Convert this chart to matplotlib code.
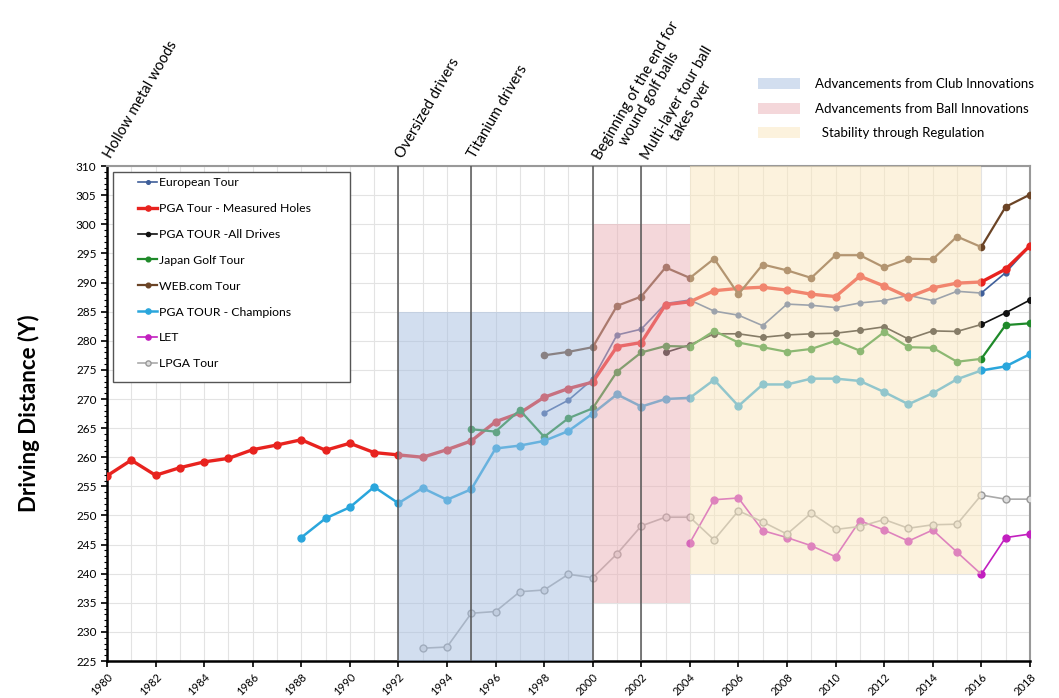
import numpy as np
import matplotlib
matplotlib.use("Agg")
import matplotlib.pyplot as plt
from matplotlib.patches import Patch, Rectangle
from matplotlib.ticker import MultipleLocator

plt.rcParams['font.family'] = ['Lato', 'DejaVu Sans']

# driving distance (yards) by year
pga_years = list(range(1980, 2019))
pga_measured = [256.8, 259.5, 256.9, 258.2, 259.2, 259.8, 261.3, 262.1, 263.0, 261.2,
                262.4, 260.8, 260.4, 260.0, 261.3, 262.8, 266.1, 267.6, 270.3, 271.8,
                272.9, 279.0, 279.7, 286.2, 286.7, 288.6, 289.0, 289.2, 288.7, 288.0,
                287.6, 291.1, 289.4, 287.5, 289.1, 289.9, 290.1, 292.3, 296.3]

euro_years = list(range(1998, 2019))
euro_tour = [267.6, 269.8, 273.4, 281.0, 282.0, 286.4, 287.0, 285.1, 284.4, 282.6,
             286.3, 286.1, 285.7, 286.5, 286.9, 287.8, 286.9, 288.5, 288.2, 291.7, 296.3]

all_years = list(range(2003, 2019))
pga_all_drives = [278.0, 279.3, 281.2, 281.2, 280.6, 281.0, 281.2, 281.3, 281.8, 282.4,
                  280.3, 281.7, 281.6, 282.8, 284.8, 287.0]

japan_years = list(range(1995, 2019))
japan_tour = [264.8, 264.4, 268.1, 263.5, 266.7, 268.4, 274.7, 278.0, 279.1, 279.0,
              281.7, 279.7, 278.9, 278.1, 278.6, 280.0, 278.3, 281.5, 278.9, 278.8,
              276.4, 276.9, 282.7, 283.0]

web_years = list(range(1998, 2019))
web_tour = [277.5, 278.1, 278.9, 286.0, 287.6, 292.6, 290.8, 294.1, 288.0, 293.1,
            292.1, 290.8, 294.7, 294.7, 292.6, 294.1, 294.0, 297.9, 296.1, 303.0, 305.1]

champ_years = list(range(1988, 2019))
champions = [246.2, 249.5, 251.4, 254.9, 252.1, 254.7, 252.7, 254.5, 261.5, 262.0,
             262.8, 264.5, 267.5, 270.8, 268.7, 270.0, 270.2, 273.3, 268.8, 272.5,
             272.5, 273.5, 273.5, 273.1, 271.2, 269.1, 271.0, 273.4, 274.9, 275.6, 277.7]

let_years = list(range(2004, 2019))
let_tour = [245.3, 252.7, 253.0, 247.4, 246.2, 244.8, 242.9, 249.1, 247.5, 245.6,
            247.5, 243.7, 239.9, 246.2, 246.8]

lpga_years = list(range(1993, 2019))
lpga_tour = [227.2, 227.4, 233.2, 233.5, 236.9, 237.2, 239.9, 239.3, 243.4, 248.2,
             249.7, 249.7, 245.8, 250.8, 248.9, 246.8, 250.4, 247.6, 248.1, 249.3,
             247.8, 248.4, 248.5, 253.5, 252.8, 252.8]

events = [(1980, "Hollow metal woods"), (1992, "Oversized drivers"),
          (1995, "Titanium drivers"), (2000, "Beginning of the end for\nwound golf balls"),
          (2002, "Multi-layer tour ball\ntakes over")]

# (x0, x1, y0, y1, label)
eras = [(1992, 2000, 225, 285, "Advancements from Club Innovations"),
        (2000, 2004, 235, 300, "Advancements from Ball Innovations"),
        (2004, 2016, 240, 310, "  Stability through Regulation")]
era_colors = ['#a7bfe1', '#eab0b6', '#fbe7bd']


def main():
    fig = plt.figure(figsize=(10.59, 6.98), dpi=100)
    ax = fig.add_axes([0.101, 0.053, 0.8715, 0.709])

    series = [
        (euro_years, euro_tour, "European Tour", '#3f5f9a', 1.2, 3.5),
        (pga_years, pga_measured, "PGA Tour - Measured Holes", '#e8231f', 2.4, 5),
        (all_years, pga_all_drives, "PGA TOUR -All Drives", '#111111', 1.2, 4),
        (japan_years, japan_tour, "Japan Golf Tour", '#1f8a2a', 1.6, 4.5),
        (web_years, web_tour, "WEB.com Tour", '#6b4426', 1.6, 4.5),
        (champ_years, champions, "PGA TOUR - Champions", '#2aa6dc', 1.8, 5),
        (let_years, let_tour, "LET", '#c21fbf', 1.2, 5),
    ]
    for xs, ys, name, c, lw, ms in series:
        ax.plot(xs, ys, color=c, marker='o', lw=lw, ms=ms, label=name, zorder=3)
    ax.plot(lpga_years, lpga_tour, color='#aaaaaa', marker='o', lw=1.2, ms=5,
            mfc='#dddddd', mec='#999999', label="LPGA Tour", zorder=3)

    # shaded eras drawn over the lines, like the original
    for (x0, x1, y0, y1, _), c in zip(eras, era_colors):
        ax.fill_between([x0, x1], y0, y1, color=c, alpha=0.5, lw=0, zorder=4)

    for yr, _ in events[1:]:
        ax.axvline(yr, color='#555555', lw=1.1, zorder=5)

    ax.set_xlim(1980, 2018)
    ax.set_ylim(225, 310)
    ax.xaxis.set_major_locator(MultipleLocator(2))
    ax.xaxis.set_minor_locator(MultipleLocator(1))
    ax.yaxis.set_major_locator(MultipleLocator(5))
    ax.yaxis.set_minor_locator(MultipleLocator(1))
    ax.grid(True, which='both', axis='x', color='#e3e3e3', lw=0.8, zorder=0)
    ax.grid(True, which='major', axis='y', color='#e3e3e3', lw=0.8, zorder=0)
    ax.set_axisbelow(True)
    ax.tick_params(axis='x', which='major', labelsize=8, rotation=45, length=4, width=1.2)
    ax.tick_params(axis='x', which='minor', length=0)
    ax.tick_params(axis='y', which='major', labelsize=8.5, length=4, width=1.2)
    ax.tick_params(axis='y', which='minor', length=2.5, width=0.8)
    for lbl in ax.get_xticklabels():
        lbl.set_ha('right')
        lbl.set_rotation_mode('anchor')
    ax.spines['left'].set_linewidth(1.8)
    ax.spines['bottom'].set_linewidth(1.8)
    for side in ('top', 'right'):
        ax.spines[side].set_color('#999999')
        ax.spines[side].set_linewidth(1.5)

    ax.set_ylabel("Driving Distance (Y)", fontsize=16, fontweight='bold', labelpad=26)

    # first line starts at the event line; extra lines fall below-right,
    # so push multi-line labels along the rotated "down" direction
    fs = 10.5
    step = 1.2 * fs
    down = (np.sin(np.radians(60)), -np.cos(np.radians(60)))
    for yr, txt in events:
        nl = txt.count('\n')
        off = (3 + nl * step * down[0], 5 + nl * step * down[1])
        ax.annotate(txt, xy=(yr, 310), xytext=off, textcoords='offset points',
                    rotation=60, rotation_mode='anchor', ha='left', va='baseline',
                    multialignment='center', fontsize=fs, annotation_clip=False)

    # legend frame drawn by hand, the box is wider than its entries
    ax.add_patch(Rectangle((0.0065, 0.5636), 0.2567, 0.4243, transform=ax.transAxes,
                           facecolor='white', edgecolor='#555555', lw=1.0, zorder=6))
    leg = ax.legend(loc='upper left', bbox_to_anchor=(0.034, 0.978), fontsize=8.8,
                    labelspacing=1.22, handlelength=1.5, handletextpad=0.15,
                    borderpad=0, borderaxespad=0, frameon=False, markerscale=0.75)
    leg.set_zorder(7)

    era_handles = [Patch(facecolor=c, alpha=0.5, lw=0) for c in era_colors]
    fig.legend(era_handles, [e[4] for e in eras], loc='upper left',
               bbox_to_anchor=(0.716, 0.888), frameon=False, fontsize=9.5,
               handlelength=3.2, handleheight=0.9, labelspacing=0.95, handletextpad=1.1,
               borderpad=0, borderaxespad=0)

    fig.savefig("out.png", dpi=100)


if __name__ == '__main__':
    main()
